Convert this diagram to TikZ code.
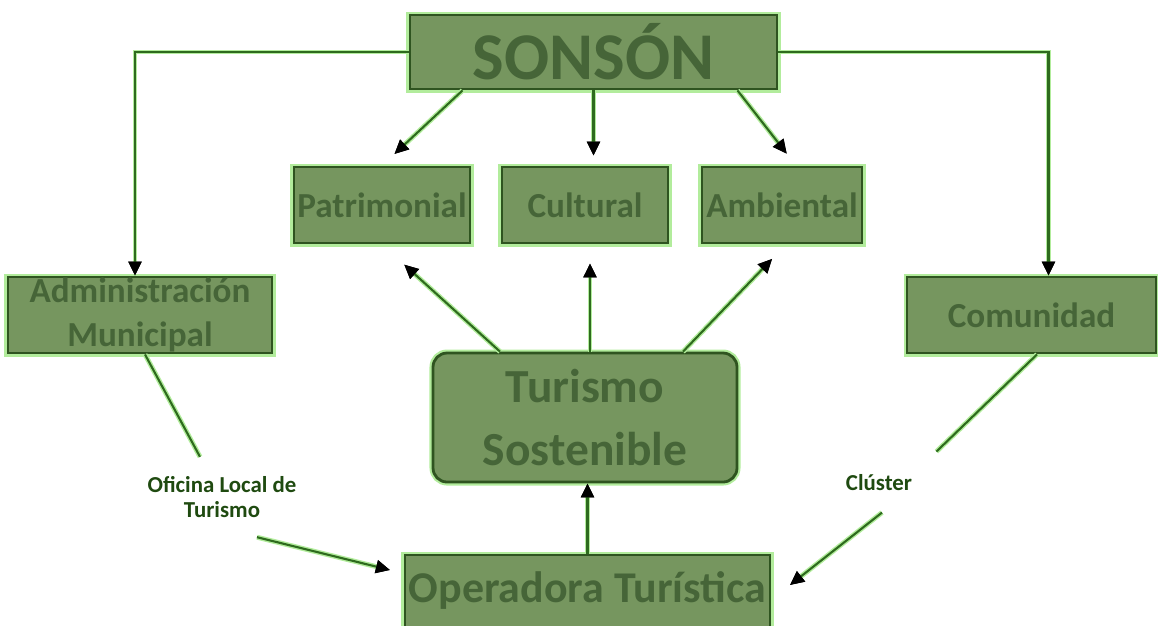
\documentclass[tikz,border=0pt]{standalone}
\usepackage{fontspec}
\setmainfont{Carlito}
\usetikzlibrary{arrows.meta}
\definecolor{verdecaja}{HTML}{76965F}
\definecolor{bordecaja}{HTML}{2F5420}
\definecolor{brillo}{HTML}{B2EC9C}
\definecolor{textocaja}{HTML}{466538}
\definecolor{linea}{HTML}{2E6B1E}
\definecolor{etiqueta}{HTML}{1F4A10}

\begin{document}
\begin{tikzpicture}[
    caja/.style={draw=bordecaja, line width=0.8pt, fill=verdecaja, text=textocaja,
      align=center, inner sep=0pt, preaction={draw=brillo, line width=2pt}},
    enlace/.style={draw=linea, line width=0.6pt, preaction={draw=brillo, line width=1.4pt}},
    flecha/.style={enlace, -{Triangle[length=4pt, width=3.6pt, color=black]}},
    etiq/.style={text=etiqueta, font=\bfseries\fontsize{6.5}{7.2}\selectfont, align=center}
]
    % Marco
    \useasboundingbox (0,0) rectangle (11.58,-6.25);
    \clip (0,0) rectangle (11.58,-6.25);

    % Cajas
    \node[caja, minimum width=3.67cm, minimum height=0.74cm, font=\bfseries\fontsize{19}{22}\selectfont] (sonson) at (5.935,-0.52) {SONSÓN};
    \node[caja, minimum width=1.76cm, minimum height=0.76cm, font=\bfseries\fontsize{10}{12}\selectfont] (patri) at (3.82,-2.05) {Patrimonial};
    \node[caja, minimum width=1.66cm, minimum height=0.76cm, font=\bfseries\fontsize{10}{12}\selectfont] (cult) at (5.85,-2.05) {Cultural};
    \node[caja, minimum width=1.60cm, minimum height=0.76cm, font=\bfseries\fontsize{10}{12}\selectfont] (amb) at (7.82,-2.05) {Ambiental};
    \node[caja, minimum width=2.64cm, minimum height=0.76cm, font=\bfseries\fontsize{10}{12.5}\selectfont] (admin) at (1.40,-3.15) {Administración\\Municipal};
    \node[caja, minimum width=2.49cm, minimum height=0.76cm, font=\bfseries\fontsize{10}{12}\selectfont] (comu) at (10.315,-3.15) {Comunidad};
    \node[caja, rounded corners=4pt, minimum width=3.04cm, minimum height=1.29cm, font=\bfseries\fontsize{13.5}{18}\selectfont] (turismo) at (5.85,-4.175) {Turismo\\Sostenible};
    \node[caja, anchor=base, minimum width=3.65cm, text height=0.47cm, text depth=0.6cm, font=\bfseries\fontsize{12.5}{15}\selectfont] (oper) at (5.875,-6.02) {Operadora Turística};

    % Etiquetas
    \node[etiq] (ofi) at (2.22,-4.97) {Oficina Local de\\Turismo};
    \node[etiq] (clus) at (8.79,-4.83) {Clúster};
    \coordinate (finofi) at (3.90,-5.70);
    \coordinate (finclus) at (7.90,-5.85);

    % Flechas desde Sonsón
    \draw[flecha] (sonson.west) -| ([xshift=-0.05cm]admin.north);
    \draw[flecha] (sonson.east) -| ([xshift=0.17cm]comu.north);
    \draw[flecha, shorten >=0.17cm] ([xshift=-1.31cm]sonson.south) -- (patri.north);
    \draw[flecha, shorten >=0.1cm] (sonson.south) -- (sonson.south |- cult.north);
    \draw[flecha, shorten >=0.15cm] ([xshift=1.44cm]sonson.south) -- ([xshift=0.14cm]amb.north);

    % Flechas desde Turismo Sostenible
    \draw[flecha, shorten >=0.3cm] ([xshift=-0.85cm]turismo.north) -- (patri.south);
    \draw[flecha, shorten >=0.19cm] ([xshift=0.05cm]turismo.north) -- ([xshift=0.05cm]cult.south);
    \draw[flecha, shorten >=0.2cm] ([xshift=0.98cm]turismo.north) -- ([xshift=0.04cm]amb.south);
    \draw[flecha] (oper.north) -- (oper.north |- turismo.south);

    % Enlaces hacia la operadora
    \draw[enlace] ([xshift=0.05cm]admin.south) -- ([shift={(-0.22cm,0.07cm)}]ofi.north);
    \draw[flecha] ([shift={(0.35cm,-0.07cm)}]ofi.south) -- (finofi);
    \draw[enlace] ([xshift=0.055cm]comu.south) -- ([shift={(0.12cm,0.11cm)}]clus.north east);
    \draw[flecha] ([shift={(0.03cm,-0.09cm)}]clus.south) -- (finclus);
\end{tikzpicture}
\end{document}
